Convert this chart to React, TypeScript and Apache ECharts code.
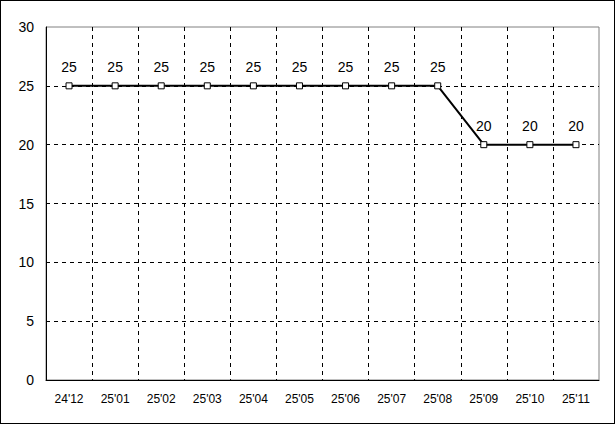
import React, { useEffect, useRef } from "react";
import * as echarts from "echarts";

const categories = ["24'12", "25'01", "25'02", "25'03", "25'04", "25'05", "25'06", "25'07", "25'08", "25'09", "25'10", "25'11"];
const values = [25, 25, 25, 25, 25, 25, 25, 25, 25, 20, 20, 20];
const yTicks = { min: 0, max: 30, interval: 5 };

export default function App() {
  const ref = useRef<HTMLDivElement>(null);
  useEffect(() => {
    document.body.style.margin = "0";
    const chart = echarts.init(ref.current!, null, { renderer: "svg" });
    const font = "Liberation Sans, Arial, sans-serif";
    chart.setOption({
      animation: false,
      backgroundColor: "#fff",
      grid: { left: 45, right: 15, top: 26, bottom: 43, show: true, borderColor: "#808080", borderWidth: 1, backgroundColor: "transparent" },
      xAxis: {
        type: "category",
        data: categories,
        boundaryGap: true,
        axisLine: { lineStyle: { color: "#000", width: 1 } },
        axisTick: { show: false },
        axisLabel: { color: "#000", fontSize: 12, fontFamily: font, margin: 13 },
        splitLine: { show: true, showMinLine: false, showMaxLine: false, lineStyle: { color: "#000", type: [4, 4], width: 1 } },
      },
      yAxis: {
        type: "value",
        min: yTicks.min,
        max: yTicks.max,
        interval: yTicks.interval,
        axisLine: { show: true, lineStyle: { color: "#000", width: 1 } },
        axisTick: { show: false },
        axisLabel: { color: "#000", fontSize: 14, fontFamily: font, margin: 12 },
        splitLine: { show: true, showMinLine: false, showMaxLine: false, lineStyle: { color: "#000", type: [4, 4], width: 1 } },
      },
      series: [
        {
          type: "line",
          data: values,
          symbol: "rect",
          symbolSize: 6,
          showAllSymbol: true,
          lineStyle: { color: "#000", width: 2 },
          itemStyle: { color: "#fff", borderColor: "#000", borderWidth: 1 },
          label: { show: true, position: "top", distance: 8, color: "#000", fontSize: 14, fontFamily: font },
          z: 3,
        },
      ],
    });
    return () => chart.dispose();
  }, []);
  return (
    <div
      ref={ref}
      style={{ position: "absolute", left: 0, top: 0, width: 615, height: 424, boxSizing: "border-box", border: "1px solid #000" }}
    />
  );
}
